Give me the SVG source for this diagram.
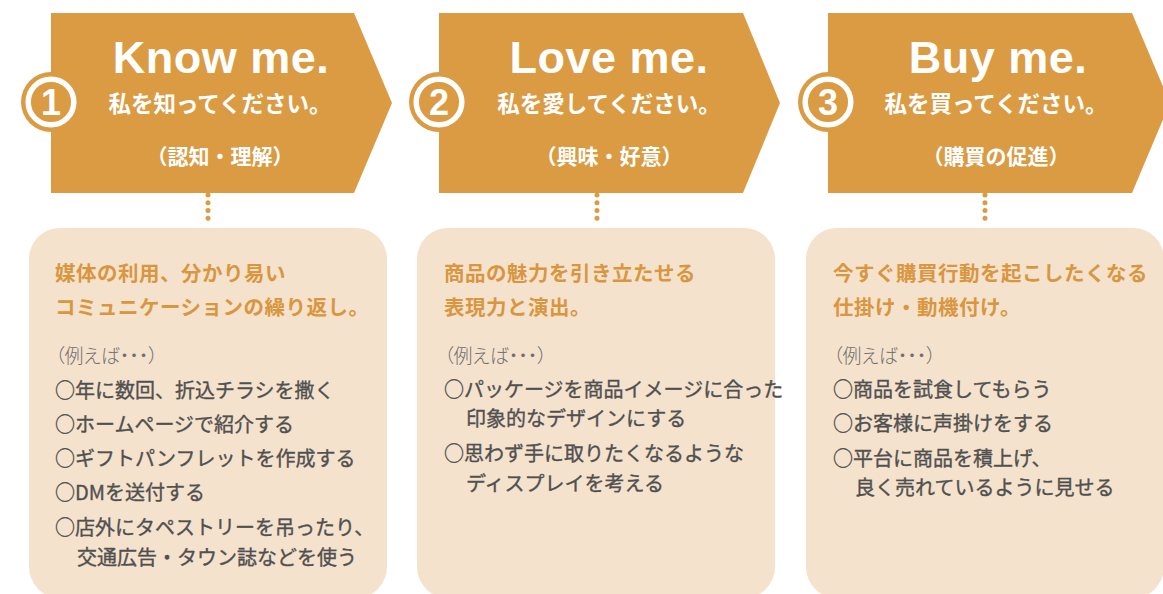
<svg xmlns="http://www.w3.org/2000/svg" width="1163" height="594" viewBox="0 0 1163 594">
<style>
.banner{fill:#DA9B43}
.box{fill:#F4E2CD}
.en{font-family:"Liberation Sans",Arial,sans-serif;font-weight:bold;fill:#fff;text-anchor:middle}
.jw{font-family:"Noto Sans CJK JP",sans-serif;font-weight:bold;fill:#fff;text-anchor:middle}
.num{font-family:"Liberation Sans",Arial,sans-serif;font-weight:bold;fill:#fff;font-size:36px;text-anchor:middle}
.ttl{font-family:"Noto Sans CJK JP",sans-serif;font-weight:bold;fill:#D9963E;font-size:20.5px;letter-spacing:0.5px}
.ex{font-family:"Noto Sans CJK JP",sans-serif;font-weight:300;fill:#707070;font-size:19px;font-feature-settings:"palt"}
.it{font-family:"Noto Sans CJK JP",sans-serif;font-weight:normal;fill:#505050;stroke:#505050;stroke-width:0.35px;font-size:20px}
.dots{stroke:#DA9B43;stroke-width:5;stroke-linecap:round;stroke-dasharray:0 7.75;fill:none}
</style>
<rect width="1163" height="594" fill="#fff"/>
<g id="connectors">
<line class="dots" x1="208" y1="195" x2="208" y2="226"/>
<line class="dots" x1="597" y1="195" x2="597" y2="226"/>
<line class="dots" x1="985" y1="195" x2="985" y2="226"/>
</g>
<g id="banner1">
<polygon class="banner" points="51,13 354,13 392,103 354,193 51,193"/>
<circle cx="51" cy="102" r="30" fill="#DA9B43"/>
<circle cx="51" cy="102" r="22.8" fill="#DA9B43" stroke="#fff" stroke-width="5.5"/>
<text class="num" x="51" y="115">1</text>
<text class="en" x="221" y="73" font-size="45" letter-spacing="0.5">Know me.</text>
<text class="jw" x="220" y="112" font-size="22.5">私を知ってください。</text>
<text class="jw" x="220" y="164" font-size="21">（認知・理解）</text>
</g>
<g id="banner2">
<polygon class="banner" points="439,13 743,13 780,103 743,193 439,193"/>
<circle cx="439" cy="102" r="30" fill="#DA9B43"/>
<circle cx="439" cy="102" r="22.8" fill="#DA9B43" stroke="#fff" stroke-width="5.5"/>
<text class="num" x="439" y="115">2</text>
<text class="en" x="609" y="73" font-size="45" letter-spacing="0.5">Love me.</text>
<text class="jw" x="609" y="112" font-size="22.5">私を愛してください。</text>
<text class="jw" x="609" y="164" font-size="21">（興味・好意）</text>
</g>
<g id="banner3">
<polygon class="banner" points="828,13 1132,13 1170,103 1132,193 828,193"/>
<circle cx="828" cy="102" r="30" fill="#DA9B43"/>
<circle cx="828" cy="102" r="22.8" fill="#DA9B43" stroke="#fff" stroke-width="5.5"/>
<text class="num" x="828" y="115">3</text>
<text class="en" x="998" y="73" font-size="45" letter-spacing="0.5">Buy me.</text>
<text class="jw" x="996" y="112" font-size="22.5">私を買ってください。</text>
<text class="jw" x="996" y="164" font-size="21">（購買の促進）</text>
</g>
<g id="box1">
<rect class="box" x="29" y="228" width="358" height="370" rx="31"/>
<text class="ttl" x="55" y="281">媒体の利用、分かり易い</text>
<text class="ttl" x="55" y="315">コミュニケーションの繰り返し。</text>
<text class="ex" x="55" y="363">（例えば・・・）</text>
<text class="it" x="55" y="398">○年に数回、折込チラシを撒く</text>
<text class="it" x="55" y="432">○ホームページで紹介する</text>
<text class="it" x="55" y="466">○ギフトパンフレットを作成する</text>
<text class="it" x="55" y="500">○DMを送付する</text>
<text class="it" x="55" y="535">○店外にタペストリーを吊ったり、</text>
<text class="it" x="77" y="565">交通広告・タウン誌などを使う</text>
</g>
<g id="box2">
<rect class="box" x="417" y="228" width="358" height="370" rx="31"/>
<text class="ttl" x="444" y="281">商品の魅力を引き立たせる</text>
<text class="ttl" x="444" y="315">表現力と演出。</text>
<text class="ex" x="444" y="363">（例えば・・・）</text>
<text class="it" x="444" y="397">○パッケージを商品イメージに合った</text>
<text class="it" x="466" y="426">印象的なデザインにする</text>
<text class="it" x="444" y="461">○思わず手に取りたくなるような</text>
<text class="it" x="466" y="491">ディスプレイを考える</text>
</g>
<g id="box3">
<rect class="box" x="806" y="228" width="358" height="370" rx="31"/>
<text class="ttl" x="833" y="281">今すぐ購買行動を起こしたくなる</text>
<text class="ttl" x="833" y="315">仕掛け・動機付け。</text>
<text class="ex" x="833" y="363">（例えば・・・）</text>
<text class="it" x="833" y="397">○商品を試食してもらう</text>
<text class="it" x="833" y="431">○お客様に声掛けをする</text>
<text class="it" x="833" y="466">○平台に商品を積上げ、</text>
<text class="it" x="855" y="495">良く売れているように見せる</text>
</g>
</svg>
